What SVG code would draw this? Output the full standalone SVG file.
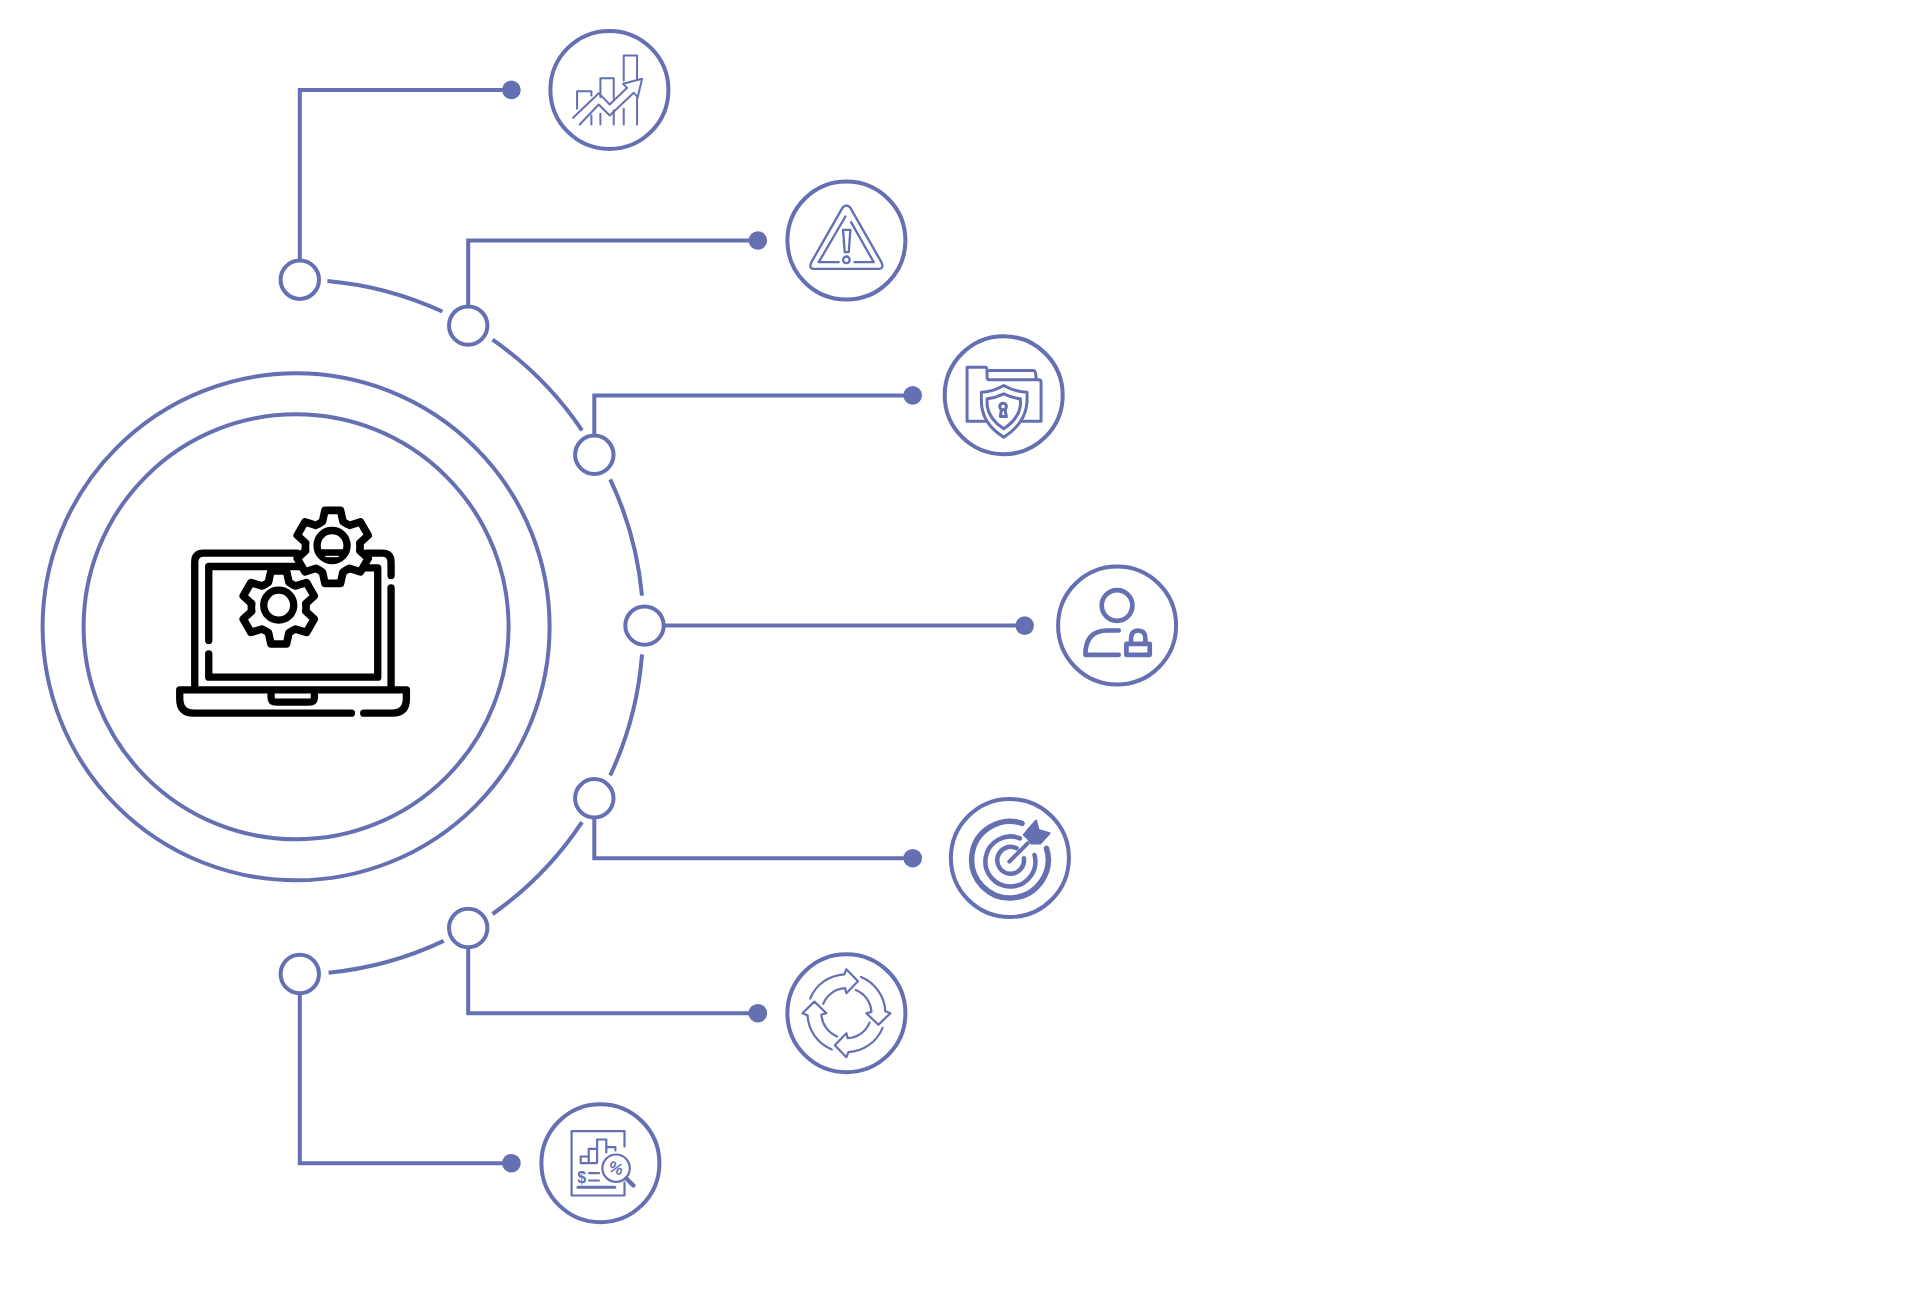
<svg xmlns="http://www.w3.org/2000/svg" width="1920" height="1300" viewBox="0 0 1920 1300">
<style>
.l{fill:none;stroke:#6570b3;stroke-width:4;stroke-linejoin:miter}
.c{fill:#fff;stroke:#6570b3;stroke-width:4}
.d{fill:#6570b3}
.i{fill:none;stroke:#6570b3;stroke-width:2.2;stroke-linecap:round;stroke-linejoin:round}
.k{fill:none;stroke:#000;stroke-width:22;stroke-linecap:round;stroke-linejoin:round}
.g{fill:#fff;stroke:#000;stroke-width:23;stroke-linejoin:round}
.t{fill:#6570b3;font-family:"Liberation Sans",Arial,sans-serif;font-weight:700;text-anchor:middle}
</style>
<defs>
<path id="gear" d="M-30.7 -76L-23.3 -109.5L23.3 -109.5L30.7 -76A82 82 0 0 0 50.5 -64.6L83.2 -74.9L106.5 -34.6L81.2 -11.4A82 82 0 0 1 81.2 11.4L106.5 34.6L83.2 74.9L50.5 64.6A82 82 0 0 0 30.7 76L23.3 109.5L-23.3 109.5L-30.7 76A82 82 0 0 0 -50.5 64.6L-83.2 74.9L-106.5 34.6L-81.2 11.4A82 82 0 0 1 -81.2 -11.4L-106.5 -34.6L-83.2 -74.9L-50.5 -64.6A82 82 0 0 0 -30.7 -76Z"/>
<path id="cyc" d="M-36.2 -14.6A39 39 0 0 1 -2 -38.9L0 -44L11.6 -32L0 -20L-1.3 -25A25 25 0 0 0 -23.2 -9.4"/>
</defs>
<rect width="1920" height="1300" fill="#fff"/>
<g transform="translate(.4 .5)">
<g id="connectors">
<path class="l" d="M327 280.4A347 347 0 0 1 442 311"/>
<path class="l" d="M492.2 339.2A347 347 0 0 1 581.6 429.8"/>
<path class="l" d="M609.8 478.8A347 347 0 0 1 641.6 595.1"/>
<path class="l" d="M641.6 653.9A347 347 0 0 1 609.8 775"/>
<path class="l" d="M581.6 821.6A347 347 0 0 1 492.2 913.5"/>
<path class="l" d="M443.3 940.4A347 347 0 0 1 328.2 972.2"/>
<path class="l" d="M299.4 259V89.4H511"/>
<path class="l" d="M467.8 305V240H757.4"/>
<path class="l" d="M593.9 434V394.9H912.3"/>
<path class="l" d="M664 625.1H1024.3"/>
<path class="l" d="M593.9 818V857.7H912.3"/>
<path class="l" d="M467.8 947V1012.7H757.4"/>
<path class="l" d="M299.4 994V1162.7H511"/>
<circle class="d" cx="511" cy="89.4" r="9.3"/>
<circle class="d" cx="757.4" cy="240" r="9.3"/>
<circle class="d" cx="912.3" cy="394.9" r="9.3"/>
<circle class="d" cx="1024.3" cy="625.1" r="9.3"/>
<circle class="d" cx="912.3" cy="857.7" r="9.3"/>
<circle class="d" cx="757.4" cy="1012.7" r="9.3"/>
<circle class="d" cx="511" cy="1162.7" r="9.3"/>
<circle class="c" cx="299.4" cy="279.2" r="19.2"/>
<circle class="c" cx="467.8" cy="325.1" r="19.2"/>
<circle class="c" cx="593.9" cy="454.3" r="19.2"/>
<circle class="c" cx="644.1" cy="625.1" r="19.2"/>
<circle class="c" cx="593.9" cy="797.8" r="19.2"/>
<circle class="c" cx="467.8" cy="927.5" r="19.2"/>
<circle class="c" cx="299.4" cy="973.5" r="19.2"/>
</g>
<g id="hub">
<circle class="c" cx="295.7" cy="626.3" r="253.5"/>
<circle class="c" cx="295.7" cy="626.3" r="212.5"/>
<g transform="translate(150 480) scale(.33333)">
<path class="k" d="M133 615V245Q133 218 160 218H440M650 218H695Q722 218 722 245V285M722 322V620"/>
<path class="k" d="M175 480V258H450M630 262H682V590H175V520"/>
<path class="k" d="M640 698H725Q768 698 768 655V628H88V655Q88 698 130 698H603"/>
<path class="k" d="M362 635V650Q362 665 379 665H475Q492 665 492 650V635"/>
<use href="#gear" class="g" x="385" y="381"/>
<circle class="k" cx="385" cy="374" r="45"/>
<use href="#gear" class="g" x="547" y="199"/>
<circle class="k" cx="545" cy="195" r="45"/>
<path d="M503 206H587V222Q570 240 545 240Q520 240 503 222Z" fill="#000"/>
<path d="M525 228H565" fill="none" stroke="#fff" stroke-width="4"/>
</g>
</g>
<g id="node-chart">
<circle class="c" cx="609" cy="89.4" r="59"/>
<g transform="translate(530 0) scale(.33333)" class="i" style="stroke-width:6">
<path d="M140 325V272H183V285M183 345V372M210 290V233H250V295M250 330V372M210 340V372M280 240V165H320V235M280 325V372M320 290V372"/>
<path d="M128 352L205 278L238 312L290 262L278 250L335 235L322 290L310 277L238 345L205 312L148 372"/>
</g>
</g>
<g id="node-warning">
<circle class="c" cx="846" cy="240" r="59"/>
<g transform="translate(530 0) scale(.33333)" class="i" style="stroke-width:7">
<path d="M936 622Q948 608 960 622L1053 785Q1062 805 1045 805H852Q834 805 843 785Z"/>
<path d="M925 785H865L945 648M962 665L1030 785H972"/>
<path d="M938 688H960L955 755H943Z"/>
<circle cx="948" cy="778" r="10"/>
</g>
</g>
<g id="node-folder">
<circle class="c" cx="1003.3" cy="394.7" r="59"/>
<g transform="translate(920 310) scale(.33333)" class="i" style="stroke-width:9">
<path d="M200 332H140V170H195Q200 170 200 180V200Q200 208 210 208H355Q362 208 362 215V332H305"/>
<path d="M205 180H340Q347 180 347 205"/>
<path fill="#fff" d="M250 225Q215 245 183 245V275Q185 340 250 380Q315 340 320 275V245Q285 245 250 225Z"/>
<path d="M250 250Q225 262 200 265V285Q205 325 250 355Q295 325 300 285V265Q275 262 250 250Z"/>
<circle cx="248" cy="288" r="10"/>
<path d="M243 297L240 318H258L254 297"/>
</g>
</g>
<g id="node-person">
<circle class="c" cx="1116.7" cy="625" r="59"/>
<g transform="translate(920 310) scale(.33333)" class="i" style="stroke-width:14">
<circle cx="590" cy="885" r="46"/>
<path d="M595 960H560Q495 960 495 1033H595"/>
<path d="M618 1000H688V1033H618Z"/>
<path d="M632 1000V985Q632 960 653 960Q675 960 675 985V1000"/>
</g>
</g>
<g id="node-target">
<circle class="c" cx="1009.5" cy="857.5" r="59"/>
<g class="i" transform="translate(-2.5 -.5)">
<path style="stroke-width:5.5" d="M1024.1 823.3A38.3 38.3 0 1 0 1048.6 848.3"/>
<path style="stroke-width:4.5" d="M1022 838.4A25 25 0 1 0 1036.6 855"/>
<path style="stroke-width:4.5" d="M1018.7 848.3A13.4 13.4 0 1 0 1026 858.3"/>
<path style="stroke-width:4" d="M1011.4 861.7L1029.7 843.3"/>
<path class="d" d="M1026 835L1031.5 828.3L1038.1 820.7L1040.6 830L1051.6 833.3L1042.5 843.3L1033.3 843.3L1029.7 838.3Z"/>
</g>
</g>
<g id="node-cycle">
<circle class="c" cx="846" cy="1012.7" r="59"/>
<g transform="translate(846 1012.7)" class="i">
<use href="#cyc"/>
<use href="#cyc" transform="rotate(90)"/>
<use href="#cyc" transform="rotate(180)"/>
<use href="#cyc" transform="rotate(270)"/>
</g>
</g>
<g id="node-report">
<circle class="c" cx="600" cy="1162.7" r="59"/>
<g class="i">
<path d="M624.1 1146V1130.7H571.2V1195H624.1V1182"/>
<path d="M596 1162.7H580.3V1156H588.3V1148.3H596.7V1139H605.9V1146.7H615V1150M588.3 1156V1162.7M596.7 1148V1162M605.9 1146.7V1152"/>
<circle cx="615.7" cy="1167.7" r="13.7"/>
<path style="stroke-width:4.5" d="M626 1178L633 1185"/>
<path d="M588.7 1172.7H598.6M588.7 1180H598.6"/>
<path style="stroke-width:3" d="M577.7 1186.7H614.3"/>
</g>
<text class="t" x="615.7" y="1173" font-size="16" transform="rotate(20 615.7 1167.7)">%</text>
<text class="t" x="581.4" y="1182" font-size="16">$</text>
</g>
</g>
</svg>
